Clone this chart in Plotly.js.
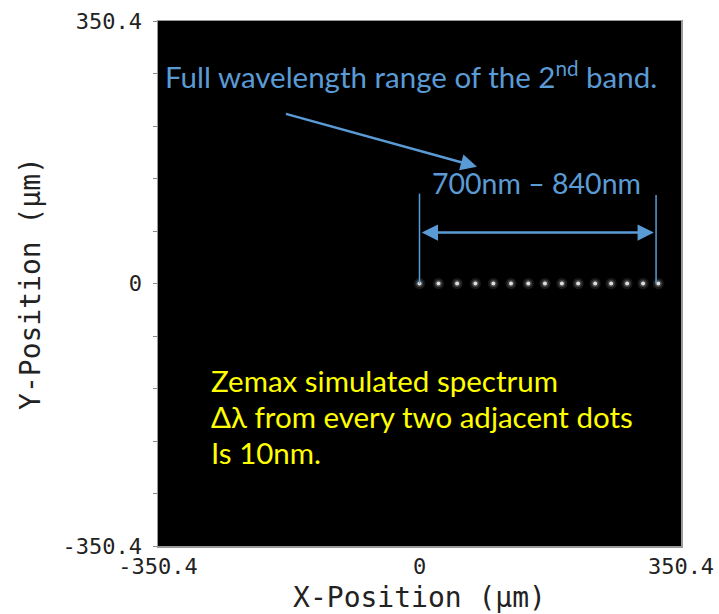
<!DOCTYPE html>
<html>
<head>
<meta charset="utf-8">
<script src="https://cdn.plot.ly/plotly-3.0.1.min.js"></script>
<style>html,body{margin:0;padding:0;background:#fff;}#chart{width:719px;height:614px;}</style>
</head>
<body>
<div id="chart"></div>
<script>
// Wavelengths of the simulated dots (nm)
const wavelengths = [700, 710, 720, 730, 740, 750, 760, 770, 780, 790, 800, 810, 820, 830, 840];
// X-positions of the dots on the detector (µm)
const xPositions = [0, 25.4, 50.4, 74.9, 99.0, 122.6, 145.8, 168.1, 190.8, 212.6, 235.4, 256.8, 278.2, 299.6, 320.0];
// Y-positions of the dots (µm)
const yPositions = [0, 0, 0, 0, 0, 0, 0, 0, 0, 0, 0, 0, 0, 0, 0];
// Axis ticks
const tickVals = [-350.4, -280.32, -210.24, -140.16, -70.08, 0, 70.08, 140.16, 210.24, 280.32, 350.4];
const tickText = ['-350.4', '', '', '', '', '0', '', '', '', '', '350.4'];
const axisRange = [-350.4, 350.4];

const blue = '#5B9BD5';
const yellow = '#FFFF00';
const textFont = 'Lato, "Open Sans", sans-serif';
const monoFont = '"DejaVu Sans Mono", "Liberation Mono", monospace';

const traces = [
  {
    x: xPositions, y: yPositions, text: wavelengths.map(w => w + ' nm'),
    type: 'scatter', mode: 'markers', hoverinfo: 'skip',
    marker: {size: 11, color: 'rgba(255,255,255,0.10)', line: {width: 0}}
  },
  {
    x: xPositions, y: yPositions, text: wavelengths.map(w => w + ' nm'),
    type: 'scatter', mode: 'markers', hoverinfo: 'skip',
    marker: {size: 7, color: 'rgba(255,255,255,0.18)', line: {width: 0}}
  },
  {
    x: xPositions, y: yPositions, text: wavelengths.map(w => w + ' nm'),
    type: 'scatter', mode: 'markers', hoverinfo: 'text',
    marker: {size: 4, color: 'rgba(230,230,230,0.95)', line: {width: 0}}
  }
];

const first = xPositions[0];

const layout = {
  width: 719, height: 614,
  margin: {l: 158, r: 38, t: 21, b: 68},
  paper_bgcolor: '#ffffff',
  plot_bgcolor: '#000000',
  showlegend: false,
  xaxis: {
    range: axisRange, autorange: false, zeroline: false, showgrid: false,
    tickmode: 'array', tickvals: tickVals, ticktext: tickText,
    ticks: '', ticklen: 0,
    showline: true, linecolor: '#9a9a9a', linewidth: 1.5, mirror: true,
    tickfont: {family: monoFont, size: 22, color: '#222'},
    title: {text: 'X-Position (µm)', font: {family: monoFont, size: 28, color: '#222'}, standoff: 11}
  },
  yaxis: {
    range: axisRange, autorange: false, zeroline: false, showgrid: false,
    tickmode: 'array', tickvals: tickVals, ticktext: tickText,
    ticks: 'outside', ticklen: 4, tickcolor: '#888', tickwidth: 1,
    ticklabelstandoff: 6,
    showline: true, linecolor: '#9a9a9a', linewidth: 1.5, mirror: true,
    tickfont: {family: monoFont, size: 22, color: '#222'},
    title: {text: 'Y-Position (µm)', font: {family: monoFont, size: 28, color: '#222'}, standoff: 14}
  },
  shapes: [
    {type: 'line', xref: 'x', yref: 'y', x0: first, x1: first, y0: 0, y1: 120, line: {color: blue, width: 1.5}},
    {type: 'line', xref: 'x', yref: 'y', x0: 317, x1: 317, y0: 0, y1: 118, line: {color: blue, width: 1.5}}
  ],
  annotations: [
    {xref: 'x', yref: 'y', x: -344, y: 278, xanchor: 'left', yanchor: 'middle', showarrow: false,
     text: 'Full wavelength range of the 2<sup>nd</sup> band.', font: {family: textFont, size: 29.5, color: blue}},
    {xref: 'x', yref: 'y', axref: 'x', ayref: 'y', x: 77, y: 156, ax: -181, ay: 227,
     showarrow: true, arrowhead: 2, arrowsize: 1.3, arrowwidth: 2.5, arrowcolor: blue, text: ''},
    {xref: 'x', yref: 'y', x: 157, y: 134, xanchor: 'center', yanchor: 'middle', showarrow: false,
     text: '700nm – 840nm', font: {family: textFont, size: 28.5, color: blue}},
    {xref: 'x', yref: 'y', axref: 'x', ayref: 'y', x: 314, y: 68, ax: 1, ay: 68,
     showarrow: true, arrowside: 'end+start', arrowhead: 2, startarrowhead: 2,
     arrowsize: 1.3, startarrowsize: 1.3, arrowwidth: 2.5, arrowcolor: blue, text: ''},
    {xref: 'x', yref: 'y', x: -282, y: -130, xanchor: 'left', yanchor: 'middle', showarrow: false,
     text: 'Zemax simulated spectrum', font: {family: textFont, size: 29.5, color: yellow}},
    {xref: 'x', yref: 'y', x: -282, y: -178, xanchor: 'left', yanchor: 'middle', showarrow: false,
     text: 'Δλ from every two adjacent dots', font: {family: textFont, size: 29.5, color: yellow}},
    {xref: 'x', yref: 'y', x: -282, y: -226, xanchor: 'left', yanchor: 'middle', showarrow: false,
     text: 'Is 10nm.', font: {family: textFont, size: 29.5, color: yellow}}
  ]
};

Plotly.newPlot('chart', traces, layout, {displayModeBar: false, staticPlot: true});
</script>
</body>
</html>
